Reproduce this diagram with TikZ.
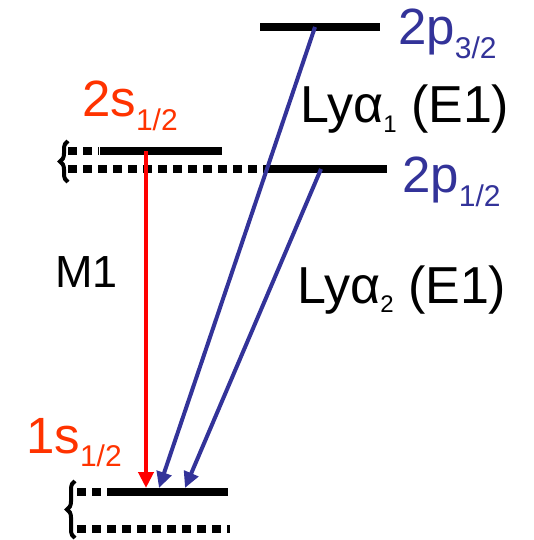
\documentclass[tikz,border=0pt]{standalone}
\usepackage{fontspec}
\setmainfont{Liberation Sans}
\usetikzlibrary{arrows.meta,decorations.pathreplacing}
\definecolor{lyblue}{RGB}{51,51,153}
\definecolor{lyorange}{RGB}{255,51,0}
% lowered small subscripts in the text font
\newcommand{\lsub}[1]{\raisebox{-0.26em}{\fontsize{30}{30}\selectfont #1}}
\newcommand{\asub}[1]{\raisebox{-0.19em}{\fontsize{24}{24}\selectfont #1}}

\begin{document}
\begin{tikzpicture}[x=1pt, y=-1pt, >={Triangle[length=16pt,width=15pt]},
  level/.style={line width=8pt},
  dots/.style={line width=8pt, dash pattern=on 9pt off 6pt},
  lbl/.style={anchor=base west, inner sep=0pt, font=\fontsize{51}{55}\selectfont},
  trans/.style={line width=4pt, ->},
  curly/.style={line width=4pt, decorate, decoration={brace, amplitude=8pt}}]
  \useasboundingbox (0,0) rectangle (533,540);
  % levels
  \draw[level] (260,27) -- (380,27);
  \draw[dots] (68,151) -- (99,151);
  \draw[level] (100,151) -- (222,151);
  \draw[dots] (68,169) -- (266,169);
  \draw[level] (266,169) -- (387,169);
  \draw[dots] (77,492) -- (106,492);
  \draw[level] (107,492) -- (228,492);
  \draw[dots] (77,529) -- (230,529);
  % hyperfine braces
  \draw[curly] (68,182) -- (68,141);
  \draw[curly] (75,538) -- (75,481);
  % level labels
  \node[lbl, text=lyblue] (l2p32) at (398,45) {2p\lsub{3/2}};
  \node[lbl, text=lyblue] (l2p12) at (402,193) {2p\lsub{1/2}};
  \node[lbl, text=lyorange] (l2s12) at (82,117) {2s\lsub{1/2}};
  \node[lbl, text=lyorange] (l1s12) at (26,453) {1s\lsub{1/2}};
  % transition labels
  \node[lbl, font=\fontsize{52}{56}\selectfont] (lya1) at (300,123) {Lyα\asub{1} (E1)};
  \node[lbl, font=\fontsize{52}{56}\selectfont] (lya2) at (297,303) {Lyα\asub{2} (E1)};
  \node[lbl, font=\fontsize{45}{50}\selectfont] (m1) at (55,287) {M1};
  % transitions
  \coordinate (s2) at (146,151);
  \coordinate (s1) at (146,488);
  \coordinate (p32) at (315,27);
  \coordinate (p12) at (321,169);
  \coordinate (g1) at (159,488);
  \coordinate (g2) at (185,488);
  \draw[trans, red] (s2) -- (s1);
  \draw[trans, lyblue] (p32) -- (g1);
  \draw[trans, lyblue] (p12) -- (g2);
\end{tikzpicture}
\end{document}
